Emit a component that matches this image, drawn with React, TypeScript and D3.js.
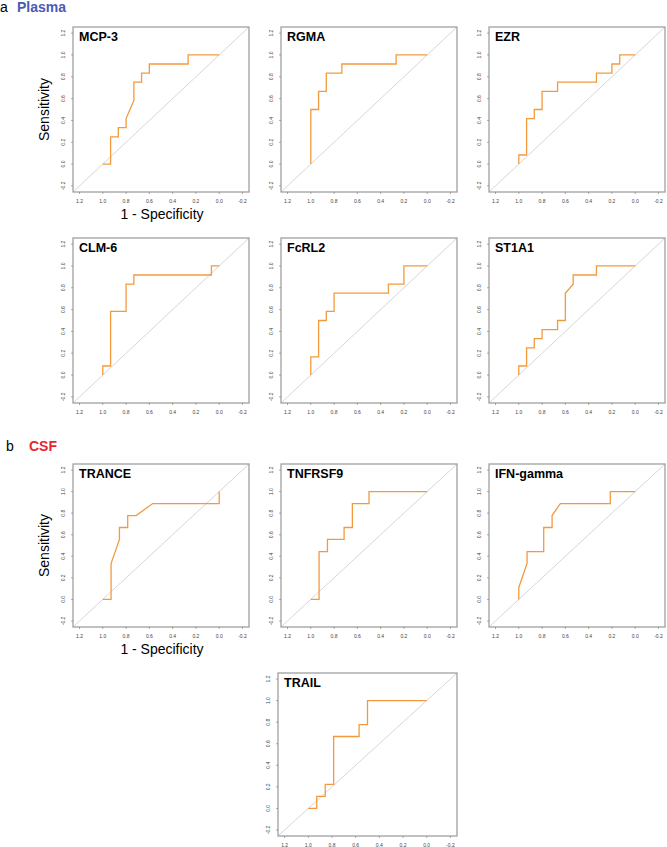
import React from "react";
import * as d3 from "d3";

// ---- data (specificity, sensitivity) ----
const panelNames = ["MCP-3", "RGMA", "EZR", "CLM-6", "FcRL2", "ST1A1", "TRANCE", "TNFRSF9", "IFN-gamma", "TRAIL"];

const mcp3Spec = [1, 0.933, 0.933, 0.867, 0.867, 0.8, 0.8, 0.733, 0.733, 0.667, 0.667, 0.6, 0.6, 0.267, 0.267, 0];
const mcp3Sens = [0, 0, 0.25, 0.25, 0.333, 0.333, 0.417, 0.583, 0.75, 0.75, 0.833, 0.833, 0.917, 0.917, 1, 1];

const rgmaSpec = [1, 1, 0.933, 0.933, 0.867, 0.867, 0.733, 0.733, 0.267, 0.267, 0];
const rgmaSens = [0, 0.5, 0.5, 0.667, 0.667, 0.833, 0.833, 0.917, 0.917, 1, 1];

const ezrSpec = [1, 1, 0.933, 0.933, 0.867, 0.867, 0.8, 0.8, 0.667, 0.667, 0.333, 0.333, 0.2, 0.2, 0.133, 0.133, 0];
const ezrSens = [0, 0.083, 0.083, 0.417, 0.417, 0.5, 0.5, 0.667, 0.667, 0.75, 0.75, 0.833, 0.833, 0.917, 0.917, 1, 1];

const clm6Spec = [1, 1, 0.933, 0.933, 0.8, 0.8, 0.733, 0.733, 0.067, 0.067, 0];
const clm6Sens = [0, 0.083, 0.083, 0.583, 0.583, 0.833, 0.833, 0.917, 0.917, 1, 1];

const fcrl2Spec = [1, 1, 0.933, 0.933, 0.867, 0.867, 0.8, 0.8, 0.333, 0.333, 0.2, 0.2, 0];
const fcrl2Sens = [0, 0.167, 0.167, 0.5, 0.5, 0.583, 0.583, 0.75, 0.75, 0.833, 0.833, 1, 1];

const st1a1Spec = [1, 1, 0.933, 0.933, 0.867, 0.867, 0.8, 0.8, 0.667, 0.667, 0.6, 0.6, 0.533, 0.533, 0.333, 0.333, 0];
const st1a1Sens = [0, 0.083, 0.083, 0.25, 0.25, 0.333, 0.333, 0.417, 0.417, 0.5, 0.5, 0.75, 0.833, 0.917, 0.917, 1, 1];

const tranceSpec = [1, 0.929, 0.929, 0.857, 0.857, 0.786, 0.786, 0.714, 0.571, 0, 0];
const tranceSens = [0, 0, 0.333, 0.556, 0.667, 0.667, 0.778, 0.778, 0.889, 0.889, 1];

const tnfrsf9Spec = [1, 0.929, 0.929, 0.857, 0.857, 0.714, 0.714, 0.643, 0.643, 0.5, 0.5, 0];
const tnfrsf9Sens = [0, 0, 0.444, 0.444, 0.556, 0.556, 0.667, 0.667, 0.889, 0.889, 1, 1];

const ifngSpec = [1, 1, 0.929, 0.929, 0.786, 0.786, 0.714, 0.714, 0.643, 0.214, 0.214, 0];
const ifngSens = [0, 0.111, 0.333, 0.444, 0.444, 0.667, 0.667, 0.778, 0.889, 0.889, 1, 1];

const trailSpec = [1, 0.929, 0.929, 0.857, 0.857, 0.786, 0.786, 0.571, 0.571, 0.5, 0.5, 0];
const trailSens = [0, 0, 0.111, 0.111, 0.222, 0.222, 0.667, 0.667, 0.778, 0.778, 1, 1];

const specSeries = [mcp3Spec, rgmaSpec, ezrSpec, clm6Spec, fcrl2Spec, st1a1Spec, tranceSpec, tnfrsf9Spec, ifngSpec, trailSpec];
const sensSeries = [mcp3Sens, rgmaSens, ezrSens, clm6Sens, fcrl2Sens, st1a1Sens, tranceSens, tnfrsf9Sens, ifngSens, trailSens];

const tickValues = [1.2, 1.0, 0.8, 0.6, 0.4, 0.2, 0.0, -0.2];
const sectionLetters = ["a", "b"];
const sectionNames = ["Plasma", "CSF"];

// ---- layout ----
const W = 667;
const H = 847;
const FONT = "'Liberation Sans', Arial, Helvetica, sans-serif";
const colLeft = [73, 281, 489];
const rowTop = [27, 238, 464, 673];
const rowH = [165, 165, 163, 163];
const boxW = 176;
// [row, col] for each panel
const grid: [number, number][] = [
  [0, 0], [0, 1], [0, 2],
  [1, 0], [1, 1], [1, 2],
  [2, 0], [2, 1], [2, 2],
  [3, 1],
];
const LO = -0.256;
const HI = 1.256;
const ORANGE = "#f39a3e";

function fmt(v: number) {
  const s = v.toFixed(1);
  return s === "-0.0" ? "0.0" : s;
}

function Panel({ idx }: { idx: number }) {
  const [r, c] = grid[idx];
  let left = colLeft[c];
  let w = boxW;
  if (idx === 9) {
    left = 278;
    w = 179;
  }
  const top = rowTop[r];
  const h = rowH[r];
  const x = d3.scaleLinear().domain([HI, LO]).range([left, left + w]);
  const y = d3.scaleLinear().domain([LO, HI]).range([top + h, top]);
  const pts: [number, number][] = specSeries[idx].map((s, i) => [s, sensSeries[idx][i]]);
  const line = d3
    .line<[number, number]>()
    .x((d) => x(d[0]))
    .y((d) => y(d[1]));
  return (
    <g>
      <rect x={left} y={top} width={w} height={h} fill="white" />
      <line x1={x(HI)} y1={y(1 - HI)} x2={x(LO)} y2={y(1 - LO)} stroke="#c4c4c4" strokeWidth={0.7} />
      <path d={line(pts) || ""} fill="none" stroke={ORANGE} strokeWidth={1.3} strokeLinejoin="miter" />
      <rect x={left} y={top} width={w} height={h} fill="none" stroke="#a0a0a0" strokeWidth={1.3} />
      {tickValues.map((t) => (
        <g key={"x" + t}>
          <line x1={x(t)} x2={x(t)} y1={top + h} y2={top + h + 2} stroke="#777" strokeWidth={0.6} />
          <text x={x(t)} y={top + h + 10.5} fontSize={5} fill="#444" textAnchor="middle" fontFamily={FONT}>
            {fmt(t)}
          </text>
        </g>
      ))}
      {tickValues.map((t) => (
        <g key={"y" + t}>
          <line x1={left - 2} x2={left} y1={y(t)} y2={y(t)} stroke="#777" strokeWidth={0.6} />
          <text
            transform={`translate(${left - 8},${y(t)}) rotate(-90)`}
            fontSize={5}
            fill="#444"
            textAnchor="middle"
            fontFamily={FONT}
          >
            {fmt(t)}
          </text>
        </g>
      ))}
      <text x={left + 6} y={top + 14} fontSize={12.5} fontWeight="bold" fill="#000" fontFamily={FONT}>
        {panelNames[idx]}
      </text>
    </g>
  );
}

export default function App() {
  const labelRows = [0, 2];
  return (
    <svg width={W} height={H} style={{ position: "absolute", left: 0, top: 0, background: "white" }}>
      <rect x={0} y={0} width={W} height={H} fill="white" />
      <text x={0} y={12} fontSize={14} fill="#000" fontFamily={FONT}>
        {sectionLetters[0]}
      </text>
      <text x={17} y={12} fontSize={14} fontWeight="bold" fill="#4a5ab4" fontFamily={FONT}>
        {sectionNames[0]}
      </text>
      <text x={6} y={451} fontSize={14} fill="#000" fontFamily={FONT}>
        {sectionLetters[1]}
      </text>
      <text x={29} y={451} fontSize={14} fontWeight="bold" fill="#e8262f" fontFamily={FONT}>
        {sectionNames[1]}
      </text>
      {panelNames.map((_, i) => (
        <Panel key={i} idx={i} />
      ))}
      {labelRows.map((r) => (
        <g key={"lab" + r}>
          <text
            transform={`translate(48.5,${rowTop[r] + rowH[r] / 2}) rotate(-90)`}
            fontSize={14}
            textAnchor="middle"
            fill="#000"
            fontFamily={FONT}
          >
            Sensitivity
          </text>
          <text
            x={colLeft[0] + boxW / 2 + 1}
            y={rowTop[r] + rowH[r] + 27}
            fontSize={14}
            textAnchor="middle"
            fill="#000"
            fontFamily={FONT}
          >
            1 - Specificity
          </text>
        </g>
      ))}
    </svg>
  );
}
